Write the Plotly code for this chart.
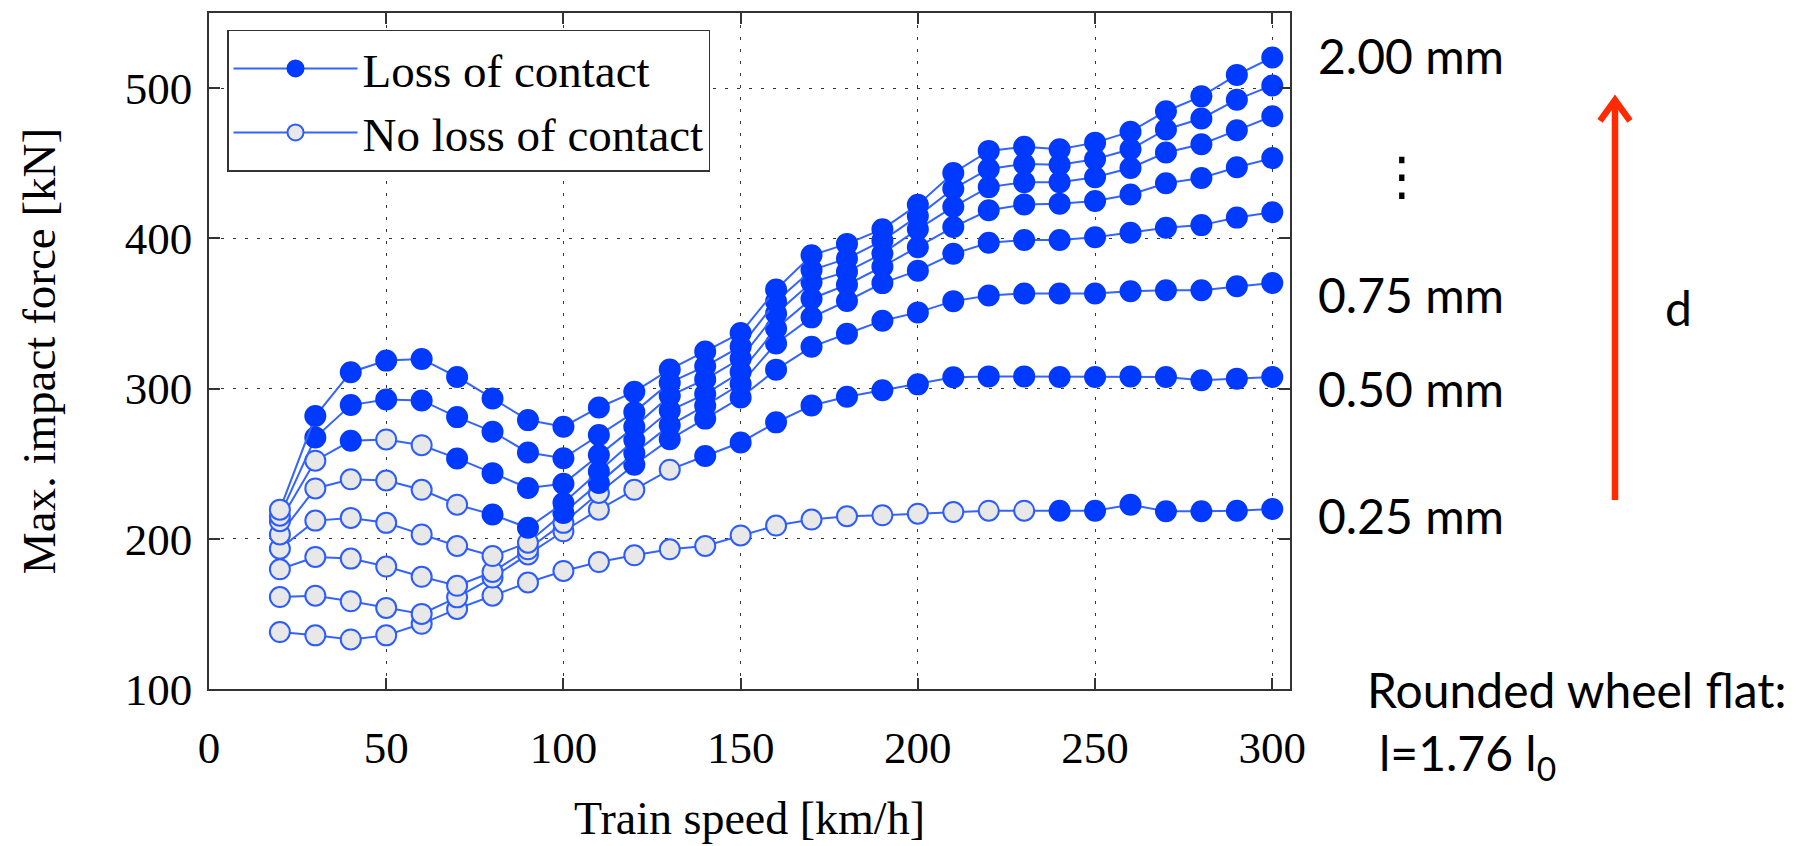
import plotly.graph_objects as go

# Train speed [km/h]
speeds = [20, 30, 40, 50, 60, 70, 80, 90, 100, 110, 120, 130, 140, 150, 160,
          170, 180, 190, 200, 210, 220, 230, 240, 250, 260, 270, 280, 290, 300]

# Max. impact force [kN] for each flat depth d
force_d025 = [137.9, 135.7, 133.0, 135.7, 143.4, 153.3, 162.1, 170.9, 178.6, 184.5, 189.0, 193.0, 195.2, 202.2, 208.8,
              212.8, 215.0, 215.6, 216.7, 217.8, 218.7, 218.7, 218.7, 218.7, 222.7, 218.3, 218.3, 218.7, 219.8]
force_d050 = [161.2, 162.1, 158.4, 154.0, 150.0, 161.0, 174.2, 189.6, 205.0, 219.4, 232.6, 246.0, 255.1, 264.1, 277.5,
              288.7, 294.6, 298.9, 302.8, 307.5, 308.1, 308.1, 307.7, 307.7, 308.1, 307.7, 305.5, 306.6, 307.7]
force_d075 = [179.7, 187.9, 186.8, 181.5, 174.7, 168.7, 177.9, 193.0, 210.6, 230.5, 249.3, 266.2, 280.0, 294.0, 312.6,
              327.8, 336.5, 345.2, 350.7, 358.2, 362.0, 363.3, 363.3, 363.3, 364.8, 365.5, 365.5, 368.1, 370.3]
force_d100 = [193.4, 212.1, 213.9, 210.6, 202.9, 195.2, 188.5, 197.4, 217.2, 237.1, 257.0, 275.5, 288.6, 303.0, 330.0,
              347.4, 358.3, 370.2, 378.5, 389.7, 397.1, 398.9, 398.9, 400.7, 403.7, 407.0, 408.8, 413.8, 417.4]
force_d125 = [202.9, 233.5, 239.6, 238.8, 232.6, 222.7, 216.1, 207.3, 223.8, 244.8, 265.7, 285.4, 296.3, 311.0, 340.0,
              359.8, 369.1, 381.1, 394.1, 407.5, 418.7, 422.6, 423.1, 424.8, 429.2, 436.7, 440.2, 447.3, 453.4]
force_d150 = [211.7, 252.0, 265.2, 266.1, 262.3, 253.5, 243.7, 233.8, 236.6, 255.8, 274.5, 295.2, 306.1, 320.0, 350.0,
              370.7, 377.8, 389.8, 406.1, 421.0, 434.1, 437.4, 437.4, 440.7, 446.8, 457.1, 462.6, 471.9, 481.3]
force_d175 = [215.4, 267.4, 289.0, 292.7, 292.1, 281.0, 271.3, 257.4, 253.6, 269.1, 284.3, 303.9, 314.8, 328.0, 358.0,
              378.9, 386.5, 398.5, 414.8, 433.0, 446.2, 449.5, 449.0, 452.7, 459.3, 472.5, 479.8, 492.3, 501.8]
force_d200 = [219.4, 281.7, 310.9, 318.6, 319.7, 307.7, 293.4, 279.0, 274.6, 287.4, 297.8, 312.7, 324.7, 337.0, 366.0,
              388.7, 396.3, 406.1, 422.4, 443.5, 458.2, 460.9, 459.3, 463.7, 471.0, 484.6, 494.5, 508.8, 520.4]

# 1 = loss of wheel-rail contact at that speed, 0 = contact kept
loss_d025 = [0, 0, 0, 0, 0, 0, 0, 0, 0, 0, 0, 0, 0, 0, 0, 0, 0, 0, 0, 0, 0, 0, 1, 1, 1, 1, 1, 1, 1]
loss_d050 = [0, 0, 0, 0, 0, 0, 0, 0, 0, 0, 0, 0, 1, 1, 1, 1, 1, 1, 1, 1, 1, 1, 1, 1, 1, 1, 1, 1, 1]
loss_d075 = [0, 0, 0, 0, 0, 0, 0, 0, 0, 0, 1, 1, 1, 1, 1, 1, 1, 1, 1, 1, 1, 1, 1, 1, 1, 1, 1, 1, 1]
loss_d100 = [0, 0, 0, 0, 0, 0, 0, 0, 1, 1, 1, 1, 1, 1, 1, 1, 1, 1, 1, 1, 1, 1, 1, 1, 1, 1, 1, 1, 1]
loss_d125 = [0, 0, 0, 0, 0, 0, 1, 1, 1, 1, 1, 1, 1, 1, 1, 1, 1, 1, 1, 1, 1, 1, 1, 1, 1, 1, 1, 1, 1]
loss_d150 = [0, 0, 1, 0, 0, 1, 1, 1, 1, 1, 1, 1, 1, 1, 1, 1, 1, 1, 1, 1, 1, 1, 1, 1, 1, 1, 1, 1, 1]
loss_d175 = [0, 1, 1, 1, 1, 1, 1, 1, 1, 1, 1, 1, 1, 1, 1, 1, 1, 1, 1, 1, 1, 1, 1, 1, 1, 1, 1, 1, 1]
loss_d200 = [0, 1, 1, 1, 1, 1, 1, 1, 1, 1, 1, 1, 1, 1, 1, 1, 1, 1, 1, 1, 1, 1, 1, 1, 1, 1, 1, 1, 1]

curves = [
    (force_d025, loss_d025), (force_d050, loss_d050), (force_d075, loss_d075),
    (force_d100, loss_d100), (force_d125, loss_d125), (force_d150, loss_d150),
    (force_d175, loss_d175), (force_d200, loss_d200),
]

x_ticks = [0, 50, 100, 150, 200, 250, 300]
y_ticks = [100, 200, 300, 400, 500]

legend_labels = ["Loss of contact", "No loss of contact"]
depth_labels = ["2.00 mm", "0.75 mm", "0.50 mm", "0.25 mm"]

LINE_BLUE = "#3563ff"
FILL_BLUE = "#0039ff"
OPEN_FILL = "#e8e8e8"
EDGE_BLUE = "#2c5cff"
SERIF = "Liberation Serif"
SANS = "Lato"

fig = go.Figure()

for force, loss in curves:
    fig.add_trace(go.Scatter(
        x=speeds, y=force, mode="lines+markers", showlegend=False,
        line=dict(color=LINE_BLUE, width=2),
        marker=dict(size=20,
                    color=[FILL_BLUE if f else OPEN_FILL for f in loss],
                    line=dict(color=[FILL_BLUE if f else EDGE_BLUE for f in loss], width=2)),
    ))

# legend entries
for name, face, edge in [(legend_labels[0], FILL_BLUE, FILL_BLUE), (legend_labels[1], OPEN_FILL, EDGE_BLUE)]:
    fig.add_trace(go.Scatter(
        x=[None], y=[None], mode="lines+markers", name=name,
        line=dict(color=LINE_BLUE, width=2),
        marker=dict(size=20, color=face, line=dict(color=edge, width=2)),
    ))

# plot-area geometry in pixels (for placing the side notes)
PL, PR, PT, PB = 209, 1290, 11, 694


def px_x(x):
    return (x - PL) / (PR - PL)


def px_y(y):
    return (PB - y) / (PB - PT)


axis_common = dict(
    showline=True, linecolor="#333333", linewidth=1.5, mirror="ticks",
    ticks="inside", ticklen=11, tickwidth=1.5, tickcolor="#333333",
    showgrid=True, gridcolor="#333333", gridwidth=1, griddash="3px,9px",
    zeroline=False, tickfont=dict(family=SERIF, size=45, color="black"),
)

fig.update_layout(
    width=1813, height=846,
    margin=dict(l=PL, r=1813 - PR, t=PT, b=846 - PB),
    plot_bgcolor="white", paper_bgcolor="white",
    xaxis=dict(range=[0, 305], tickvals=x_ticks, ticklabelstandoff=18,
               title=dict(text="Train speed [km/h]", font=dict(family=SERIF, size=46, color="black"), standoff=30),
               **axis_common),
    yaxis=dict(range=[100, 550], tickvals=y_ticks, ticklabelstandoff=6,
               title=dict(text="Max. impact force [kN]", font=dict(family=SERIF, size=47, color="black"), standoff=54),
               **axis_common),
    legend=dict(x=px_x(227), y=px_y(28), xanchor="left", yanchor="top",
                bgcolor="white", bordercolor="#333333", borderwidth=1.5,
                font=dict(family=SERIF, size=47, color="black"), itemwidth=124),
)

notes = [
    (depth_labels[0], 1316, 54, "left"),
    (depth_labels[1], 1316, 295, "left"),
    (depth_labels[2], 1316, 390, "left"),
    (depth_labels[3], 1316, 519, "left"),
    ("d", 1678, 309, "center"),
    ("Rounded wheel flat:", 1365, 694, "left"),
    ("l=1.76 l<sub>0</sub>", 1377, 762, "left"),
]
for text, x, y, anchor in notes:
    fig.add_annotation(x=px_x(x), y=px_y(y), xref="paper", yref="paper", text=text,
                       showarrow=False, xanchor=anchor, yanchor="middle",
                       font=dict(family=SANS, size=48, color="black"))

fig.add_annotation(x=px_x(1402), y=px_y(176), xref="paper", yref="paper", text="⋮",
                   showarrow=False, xanchor="center", yanchor="middle",
                   font=dict(family="DejaVu Sans", size=52, color="black"))

# red arrow indicating increasing flat depth d
RED = "#ff2a00"
fig.add_shape(type="line", xref="paper", yref="paper",
              x0=px_x(1615), y0=px_y(503), x1=px_x(1615), y1=px_y(99),
              line=dict(color=RED, width=6.5))
fig.add_shape(type="path", xref="paper", yref="paper",
              path=f"M {px_x(1600)},{px_y(120)} L {px_x(1615)},{px_y(99)} L {px_x(1630)},{px_y(120)}",
              line=dict(color=RED, width=6.5))

fig.write_html("out.html")
